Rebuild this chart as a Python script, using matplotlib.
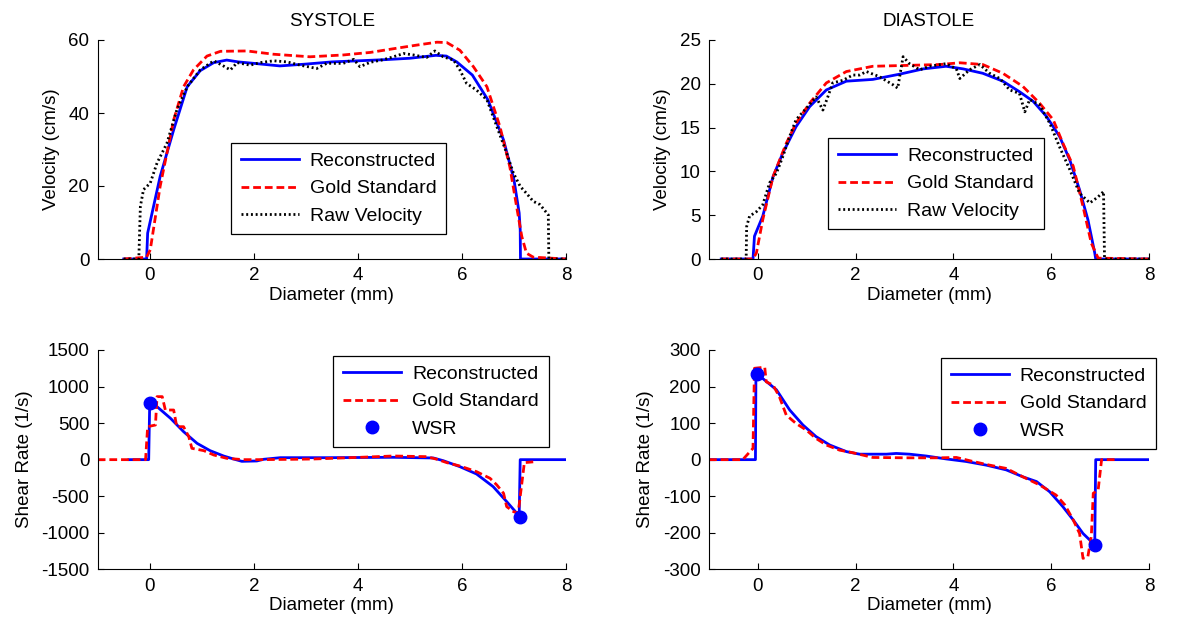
import matplotlib
matplotlib.use("Agg")
import matplotlib.pyplot as plt

plt.rcParams['font.family'] = ['Liberation Sans', 'DejaVu Sans']
plt.rcParams['font.size'] = 13.5
plt.rcParams['axes.unicode_minus'] = False

# ---- Systole velocity (cm/s) vs diameter (mm)
sys_rec_x = [-0.5, -0.06, -0.04, 0.2, 0.46, 0.72, 0.97, 1.23, 1.48, 1.7, 2.0, 2.5, 3.0, 3.5, 4.0,
             4.5, 5.0, 5.5, 5.7, 5.9, 6.2, 6.5, 6.8, 7.0, 7.1, 7.12, 7.125, 8.0]
sys_rec_y = [0, 0, 7.1, 22.6, 35.4, 47.2, 51.6, 53.8, 54.5, 54.0, 53.6, 52.9, 53.4, 54.0, 54.3,
             54.6, 55.0, 55.8, 55.6, 54.0, 50.4, 43.6, 32.6, 21.7, 12.6, 8.0, 0, 0]

sys_gold_x = [-0.5, -0.06, 0.01, 0.2, 0.46, 0.65, 0.84, 1.1, 1.36, 1.87, 2.38, 3.08, 3.72,
              4.24, 4.68, 5.13, 5.52, 5.71, 5.96, 6.22, 6.48, 6.73, 6.92, 7.05, 7.15, 7.24,
              7.37, 8.0]
sys_gold_y = [0, 0.5, 2.5, 19.9, 38.1, 47.2, 51.8, 55.6, 56.9, 57.0, 56.1, 55.4, 55.9,
              56.6, 57.6, 58.6, 59.4, 59.3, 57.2, 52.7, 47.2, 36.3, 25.3, 14.4, 6.2, 1.6,
              0.5, 0]

sys_raw_x = [-0.5, -0.21, -0.18, -0.12, 0.01, 0.14, 0.33, 0.52, 0.72, 0.97, 1.23, 1.39,
             1.55, 1.68, 1.93, 2.12, 2.38, 2.64, 2.89, 3.21, 3.4, 3.72, 3.92, 4.04, 4.24,
             4.49, 4.68, 4.88, 5.07, 5.32, 5.48, 5.64, 5.84, 5.96, 6.09, 6.28, 6.48, 6.67,
             6.86, 6.99, 7.12, 7.24, 7.37, 7.5, 7.66, 7.67, 8.0]
sys_raw_y = [0, 0, 14.4, 19.0, 20.8, 26.3, 31.7, 40.8, 47.2, 51.8, 54.3, 53.1,
             51.8, 53.8, 53.1, 53.8, 54.3, 54.0, 53.1, 52.2, 53.6, 53.6, 54.7, 52.7, 53.9,
             54.6, 55.4, 56.3, 55.9, 55.2, 57.0, 55.4, 54.5, 51.8, 48.1, 46.3, 43.6, 36.3,
             29.0, 23.5, 19.9, 18.0, 15.8, 14.9, 12.1, 0, 0]

# ---- Diastole velocity (cm/s)
dia_rec_x = [-0.75, -0.1, -0.07, 0.1, 0.31, 0.51, 0.78, 1.06, 1.4, 1.81, 2.35, 2.9, 3.38,
             3.85, 4.2, 4.6, 5.01, 5.35, 5.63, 5.9, 6.17, 6.38, 6.58, 6.75, 6.89, 6.91, 8.0]
dia_rec_y = [0, 0, 2.6, 4.9, 9.4, 12.1, 15.1, 17.4, 19.3, 20.3, 20.5, 21.1, 21.7,
             22.0, 21.7, 21.2, 20.3, 19.1, 18.0, 16.3, 14.0, 11.3, 7.9, 4.5, 0.7, 0, 0]

dia_gold_x = [-0.75, -0.1, -0.03, 0.1, 0.31, 0.58, 0.78, 1.06, 1.4, 1.81, 2.35, 3.04, 3.72,
              4.13, 4.6, 5.01, 5.42, 5.76, 6.04, 6.24, 6.45, 6.65, 6.82, 6.96, 8.0]
dia_gold_y = [0, 0, 0.7, 4.5, 9.4, 13.2, 15.5, 17.8, 20.1, 21.4, 22.0, 22.1, 22.2,
              22.4, 22.2, 21.2, 19.7, 17.8, 15.9, 13.2, 10.6, 6.0, 1.8, 0.1, 0]

dia_raw_x = [-0.75, -0.24, -0.23, -0.17, -0.03, 0.1, 0.24, 0.38, 0.51, 0.65, 0.78, 0.99,
             1.19, 1.33, 1.43, 1.53, 1.74, 1.94, 2.08, 2.22, 2.49, 2.76, 2.86, 2.97, 3.1,
             3.31, 3.51, 3.85, 4.06, 4.13, 4.33, 4.54, 4.74, 4.95, 5.15, 5.35, 5.46, 5.56,
             5.76, 5.97, 6.17, 6.38, 6.58, 6.79, 6.96, 7.07, 7.09, 8.0]
dia_raw_y = [0, 0, 3.7, 4.9, 5.4, 6.2, 8.7, 9.8, 11.7, 14.0, 15.9, 17.2,
             18.5, 17.0, 18.5, 20.1, 20.4, 21.0, 21.0, 21.4, 20.8, 19.9, 19.5, 23.1, 22.3,
             21.6, 22.0, 22.3, 21.7, 20.6, 21.6, 22.2, 21.2, 20.6, 19.3, 18.9, 16.8, 18.2,
             17.6, 15.5, 12.8, 10.2, 7.5, 6.4, 7.1, 7.7, 0, 0]

# ---- Systole shear rate (1/s)
sys_sr_rec_x = [-0.4, -0.02, 0.0, 0.14, 0.4, 0.65, 0.91, 1.16, 1.42, 1.61, 1.77, 2.06,
                2.19, 2.51, 3.4, 4.68, 5.45, 5.64, 5.96, 6.28, 6.6, 6.86, 7.1, 7.12, 8.0]
sys_sr_rec_y = [0, 0, 793, 725, 565, 383, 223, 123, 50, 9, -23, -18,
                5, 27, 27, 32, 23, -14, -96, -196, -369, -574, -770, 0, 0]

sys_sr_gold_x = [-1.0, -0.08, -0.04, 0.11, 0.14, 0.24, 0.3, 0.46, 0.52, 0.65, 0.75, 0.81,
                 1.04, 1.23, 1.48, 1.8, 2.12, 2.76, 3.15, 4.04, 4.68, 5.32, 5.52, 5.71,
                 5.96, 6.28, 6.54, 6.67, 6.8, 6.86, 6.99, 7.08, 7.2, 7.37]
sys_sr_gold_y = [0, 0, 451, 474, 862, 862, 679, 679, 451, 451, 315, 155,
                 123, 64, 18, 0, 0, 5, 9, 32, 50, 41, 5, -41,
                 -87, -164, -255, -346, -460, -643, -711, -734, -41, -30]

sys_wsr_x = [0.0, 7.12]
sys_wsr_y = [780, -780]

# ---- Diastole shear rate (1/s)
dia_sr_rec_x = [-1.0, -0.05, -0.04, 0.1, 0.38, 0.65, 0.92, 1.19, 1.47, 1.81, 2.08, 2.63,
                2.83, 3.1, 3.44, 3.85, 4.26, 4.67, 5.08, 5.42, 5.7, 5.97, 6.24, 6.45, 6.65,
                6.89, 6.91, 8.0]
dia_sr_rec_y = [0, 0, 236, 222, 191, 136, 95, 63, 40, 22, 15, 15,
                17, 15, 10, 2, -5, -15, -28, -47, -60, -88, -129, -165, -202,
                -233, 0, 0]

dia_sr_gold_x = [-1.0, -0.31, -0.1, -0.07, 0.14, 0.17, 0.31, 0.44, 0.58, 0.78, 0.99, 1.19,
                 1.4, 1.67, 1.94, 2.35, 3.04, 3.72, 4.06, 4.4, 4.74, 5.08, 5.42, 5.76,
                 6.1, 6.28, 6.45, 6.58, 6.65, 6.75, 6.82, 6.86, 6.96, 7.03, 7.37]
dia_sr_gold_y = [0, 0, 31, 250, 253, 213, 204, 172, 122, 99, 81, 58,
                 40, 26, 19, 6, 5, 5, 6, -5, -15, -24, -47, -69,
                 -97, -124, -165, -202, -270, -265, -210, -92, -83, 0, 0]

dia_wsr_x = [-0.02, 6.9]
dia_wsr_y = [233, -233]

titles = ['SYSTOLE', 'DIASTOLE']

W, H = 1197, 626
fig = plt.figure(figsize=(W / 100, H / 100), dpi=100)


def px_axes(x0, y0, x1, y1):
    return fig.add_axes([x0 / W, 1 - y1 / H, (x1 - x0) / W, (y1 - y0) / H])


def style(ax, ylim, yticks, ylabel):
    ax.set_xlim(-1, 8)
    ax.set_xticks([0, 2, 4, 6, 8])
    ax.set_ylim(*ylim)
    ax.set_yticks(yticks)
    ax.spines['top'].set_visible(False)
    ax.spines['right'].set_visible(False)
    for s in ('left', 'bottom'):
        ax.spines[s].set_linewidth(0.8)
    ax.tick_params(direction='in', length=4, width=0.8, pad=6)
    ax.set_xlabel('Diameter (mm)', labelpad=2)
    ax.set_ylabel(ylabel, labelpad=6)


def legend(ax, x, y):
    leg = ax.legend(loc='upper left', bbox_to_anchor=(x, y), bbox_transform=fig.transFigure,
                    fancybox=False, edgecolor='black', framealpha=1, handlelength=3.0,
                    handletextpad=0.55, borderpad=0.5, labelspacing=0.5, borderaxespad=0,
                    fontsize=14)
    leg.get_frame().set_linewidth(0.9)


lw = 2.0
dash = (2.8, 1.4)
dot = (0.7, 1.0)

ax1 = px_axes(97.7, 40, 566, 259)
ax1.plot(sys_rec_x, sys_rec_y, color='blue', lw=lw, label='Reconstructed', zorder=1)
ax1.plot(sys_gold_x, sys_gold_y, color='red', lw=lw, dashes=dash, label='Gold Standard', zorder=2)
ax1.plot(sys_raw_x, sys_raw_y, color='black', lw=lw, dashes=dot, label='Raw Velocity', zorder=3)
style(ax1, (0, 60), [0, 20, 40, 60], 'Velocity (cm/s)')
ax1.set_title(titles[0], fontsize=13.5, pad=10)
legend(ax1, 231 / W, 1 - 142.7 / H)

ax2 = px_axes(709, 40, 1149, 259)
ax2.plot(dia_rec_x, dia_rec_y, color='blue', lw=lw, label='Reconstructed', zorder=1)
ax2.plot(dia_gold_x, dia_gold_y, color='red', lw=lw, dashes=dash, label='Gold Standard', zorder=2)
ax2.plot(dia_raw_x, dia_raw_y, color='black', lw=lw, dashes=dot, label='Raw Velocity', zorder=3)
style(ax2, (0, 25), [0, 5, 10, 15, 20, 25], 'Velocity (cm/s)')
ax2.set_title(titles[1], fontsize=13.5, pad=10)
legend(ax2, 828.3 / W, 1 - 137.7 / H)

ax3 = px_axes(97.7, 350, 566, 569.3)
ax3.plot(sys_sr_rec_x, sys_sr_rec_y, color='blue', lw=lw, label='Reconstructed', zorder=1)
ax3.plot(sys_sr_gold_x, sys_sr_gold_y, color='red', lw=lw, dashes=dash, label='Gold Standard', zorder=2)
ax3.plot(sys_wsr_x, sys_wsr_y, 'o', color='blue', ms=9, label='WSR', zorder=4)
style(ax3, (-1500, 1500), [-1500, -1000, -500, 0, 500, 1000, 1500], 'Shear Rate (1/s)')
legend(ax3, 333.3 / W, 1 - 355.7 / H)

ax4 = px_axes(709, 350, 1149, 569.3)
ax4.plot(dia_sr_rec_x, dia_sr_rec_y, color='blue', lw=lw, label='Reconstructed', zorder=1)
ax4.plot(dia_sr_gold_x, dia_sr_gold_y, color='red', lw=lw, dashes=dash, label='Gold Standard', zorder=2)
ax4.plot(dia_wsr_x, dia_wsr_y, 'o', color='blue', ms=9, label='WSR', zorder=4)
style(ax4, (-300, 300), [-300, -200, -100, 0, 100, 200, 300], 'Shear Rate (1/s)')
legend(ax4, 941 / W, 1 - 357.7 / H)

fig.savefig('out.png', dpi=100, facecolor='white')
